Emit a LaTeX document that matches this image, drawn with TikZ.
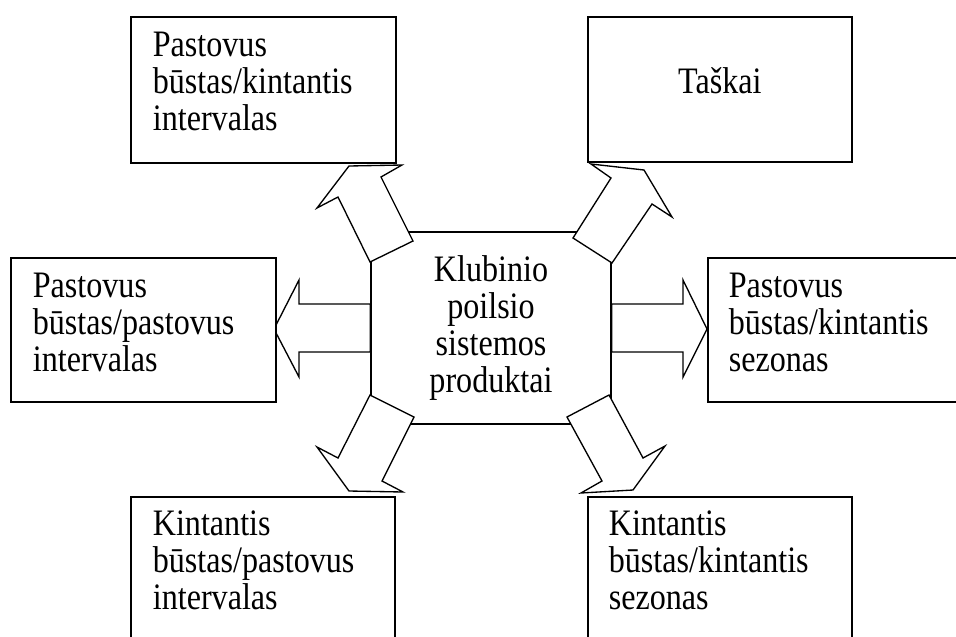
\documentclass[tikz,border=0pt]{standalone}
\usepackage{fontspec}
\setmainfont[FakeStretch=0.86]{Liberation Serif}
\newdimen\pxu
\pxu=0.375pt
\tikzset{
    box/.style={draw, line width=0.65pt, fill=white, anchor=north west, align=left,
        inner xsep=22\pxu, inner ysep=0pt, text height=40\pxu,
        font=\fontsize{14pt}{13.8pt}\selectfont},
    blockarrow/.style={draw, line width=0.5pt, fill=white, line join=miter},
}
\begin{document}
\begin{tikzpicture}[x=0.375pt, y=-0.375pt]
    \useasboundingbox (0,0) rectangle (956,636);
    \clip (0,0) rectangle (956,636);

    \node[draw, line width=0.5pt, fill=white, align=center, text width=200\pxu,
        minimum width=240\pxu, minimum height=192\pxu, inner sep=0pt,
        font=\fontsize{14pt}{13.8pt}\selectfont] (kp) at (491,328)
        {Klubinio\\poilsio\\sistemos\\produktai};

    \draw[blockarrow] (kp.west |- 0,304) -- (299,304) -- (299,280) -- (274,329)
        -- (299,377) -- (299,352) -- (kp.west |- 0,352) -- cycle;
    \draw[blockarrow] (kp.east |- 0,304) -- (683,304) -- (683,280) -- (707,329)
        -- (683,377) -- (683,352) -- (kp.east |- 0,352) -- cycle;

    \draw[blockarrow] (370,262) -- (413,241) -- (381,177) -- (402,165) -- (349,166)
        -- (317,208) -- (338,197) -- cycle;
    \draw[blockarrow] (612,263) -- (573,238) -- (611,178) -- (591,164) -- (644,170)
        -- (672,217) -- (652,204) -- cycle;
    \draw[blockarrow] (370,395) -- (414,417) -- (382,481) -- (403,492) -- (349,491)
        -- (317,447) -- (338,458) -- cycle;
    \draw[blockarrow] (609,395) -- (567,417) -- (602,481) -- (581,493) -- (633,490)
        -- (665,446) -- (643,458) -- cycle;

    \node[box, text width=221\pxu, text depth=106\pxu] (pbki) at (130,16)
        {Pastovus\\būstas/kintantis\\intervalas};
    \node[box, align=center, text width=220\pxu, text height=77\pxu, text depth=68\pxu] (taskai) at (587,16)
        {Taškai};
    \node[box, text width=221\pxu, text depth=104\pxu] (pbpi) at (10,257)
        {Pastovus\\būstas/pastovus\\intervalas};
    \node[box, inner xsep=21\pxu, text width=240\pxu, text depth=104\pxu] (pbks) at (707,257)
        {Pastovus\\būstas/kintantis\\sezonas};
    \node[box, text width=220\pxu, text height=39\pxu, text depth=161\pxu] (kbpi) at (130,496)
        {Kintantis\\būstas/pastovus\\intervalas};
    \node[box, inner xsep=21\pxu, text width=222\pxu, text height=39\pxu, text depth=161\pxu] (kbks) at (587,496)
        {Kintantis\\būstas/kintantis\\sezonas};
\end{tikzpicture}
\end{document}
